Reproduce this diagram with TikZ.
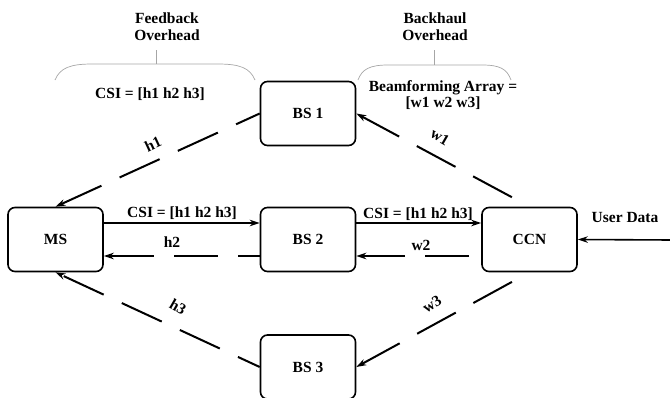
\documentclass[tikz,border=0pt]{standalone}
\usepackage{fontspec}
\setmainfont{Liberation Serif}
\usetikzlibrary{arrows.meta}
\begin{document}
\begin{tikzpicture}[x=1pt,y=-1pt,
  every node/.style={font=\fontsize{15.5}{18}\selectfont\bfseries},
  blk/.style={draw, line width=1.6pt, rounded corners=7pt, minimum width=95pt, minimum height=64pt, inner sep=0pt},
  tip/.style={-{Stealth[length=10pt,width=6.5pt]}},
  solidarrow/.style={tip, line width=1.6pt},
  dasharrow/.style={tip, line width=2pt, dash pattern=on 44pt off 20pt},
  brace/.style={draw=gray!70, line width=0.7pt},
  lbl/.style={inner sep=1pt}]
\useasboundingbox (0,0) rectangle (670,397);

% boxes
\node[blk] (MS)  at (55.5,239.5) {MS};
\node[blk] (BS1) at (308,113.5) {BS 1};
\node[blk] (BS2) at (308,239.5) {BS 2};
\node[blk] (BS3) at (308,367) {BS 3};
\node[blk] (CCN) at (529.5,239.5) {CCN};
\coordinate (UD) at (672,240);

% overhead labels and braces
\node[align=center] (FB) at (167,27) {Feedback\\[-1pt]Overhead};
\node[align=center] (BH) at (435,27) {Backhaul\\[-1pt]Overhead};
\coordinate (fbt) at (156,50);
\coordinate (bht) at (434,50);
\draw[brace] (55,80) .. controls (60,68) and (70,64) .. (92,64) -- (218,64) .. controls (240,64) and (250,68) .. (255,80);
\draw[brace] (fbt) -- (156,64);
\draw[brace] (358,80) .. controls (362,69) and (370,65) .. (388,65) -- (482,65) .. controls (500,65) and (507,69) .. (511,80);
\draw[brace] (bht) -- (434,65);
\node (csitop) at (150,94) {CSI = [h1 h2 h3]};
\node[align=center] (bfa) at (443,95) {Beamforming Array =\\[-2pt][w1 w2 w3]};

% connectors
\draw[dasharrow, dash phase=18pt] (BS1.west) -- (MS.north);
\draw[dasharrow, dash phase=44pt] (CCN.north) -- (BS1.east);
\draw[solidarrow] ([yshift=16.5pt]MS.east) -- ([yshift=16.5pt]BS2.west);
\draw[dasharrow, dash phase=22pt] ([yshift=-16.5pt]BS2.west) -- ([yshift=-16.5pt]MS.east);
\draw[solidarrow] ([yshift=16.5pt]BS2.east) -- ([yshift=16.5pt]CCN.west);
\draw[dasharrow, dash phase=52pt] ([yshift=-16.5pt]CCN.west) -- ([yshift=-16.5pt]BS2.east);
\draw[dasharrow, dash phase=20pt] (BS3.west) -- (MS.south);
\draw[dasharrow, dash phase=44pt] (CCN.south) -- (BS3.east);
\draw[solidarrow] (UD) -- (CCN.east);

% connector labels
\node[lbl, rotate=25] (lh1) at (153,144) {h1};
\node[lbl, rotate=-30] (lw1) at (440,137) {w1};
\node[lbl] (csi1) at (182,213) {CSI = [h1 h2 h3]};
\node[lbl] (lh2) at (172,242) {h2};
\node[lbl] (csi2) at (418,214) {CSI = [h1 h2 h3]};
\node[lbl] (lw2) at (421,245) {w2};
\node[lbl, rotate=-30] (lh3) at (178,307) {h3};
\node[lbl, rotate=32] (lw3) at (432,304) {w3};
\node[lbl] (ud) at (625,217) {User Data};
\end{tikzpicture}
\end{document}
